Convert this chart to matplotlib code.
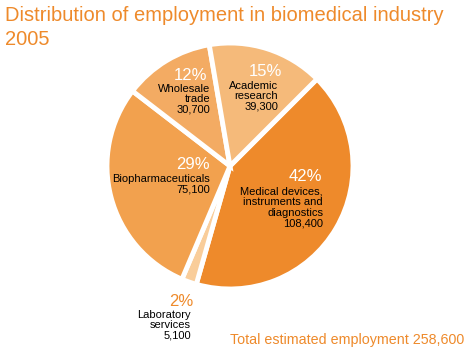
import matplotlib
matplotlib.use("Agg")
import matplotlib.pyplot as plt

plt.rcParams['font.family'] = ['Liberation Sans', 'DejaVu Sans']

categories = ["Medical devices,\ninstruments and\ndiagnostics", "Laboratory\nservices",
              "Biopharmaceuticals", "Wholesale\ntrade", "Academic\nresearch"]
employment = [108400, 5100, 75100, 30700, 39300]
percent_labels = ["42%", "2%", "29%", "12%", "15%"]
value_labels = ["108,400", "5,100", "75,100", "30,700", "39,300"]
colors = ["#EE8A2B", "#F9CD9A", "#F2A14E", "#F3AB63", "#F5BA7A"]
title = "Distribution of employment in biomedical industry\n2005"
footer = "Total estimated employment 258,600"

W, H = 470, 350
fig = plt.figure(figsize=(W / 100, H / 100), dpi=100)

cx, cy, r = 230, 166, 123
ax = fig.add_axes([(cx - r) / W, 1 - (cy + r) / H, 2 * r / W, 2 * r / H])
ax.pie(employment, colors=colors, startangle=45, counterclock=False,
       wedgeprops=dict(edgecolor="white", linewidth=3.5))
ax.set_xlim(-1, 1)
ax.set_ylim(-1, 1)
ax.set_aspect("equal")
for p in ax.patches:
    p.set_clip_on(False)

def px(x, y):
    return x / W, 1 - y / H

orange = "#EE8A2B"
fig.text(*px(5, 6), title, color=orange, fontsize=14.5, va="top", ha="left", linespacing=1.32)

# label positions: (pct x, pct y, pct ha, label x, label top y, pct color)
layout = [
    (322, 177, "right", 323, 187, "white"),
    (193, 302, "right", 191, 310, orange),
    (210, 164, "right", 210, 174, "white"),
    (207, 75, "right", 210, 84, "white"),
    (282, 72, "right", 278, 81, "white"),
]
for (pxx, pyy, ha, lx, ly, pc), cat, pl, vl in zip(layout, categories, percent_labels, value_labels):
    fig.text(*px(pxx, pyy), pl, color=pc, fontsize=12, ha=ha, va="center")
    fig.text(*px(lx, ly), cat + "\n" + vl, color="black", fontsize=8, ha="right",
             va="top", linespacing=1.05)

fig.text(*px(464, 340), footer, color=orange, fontsize=10.3, ha="right", va="center")

fig.savefig("out.png", dpi=100)
